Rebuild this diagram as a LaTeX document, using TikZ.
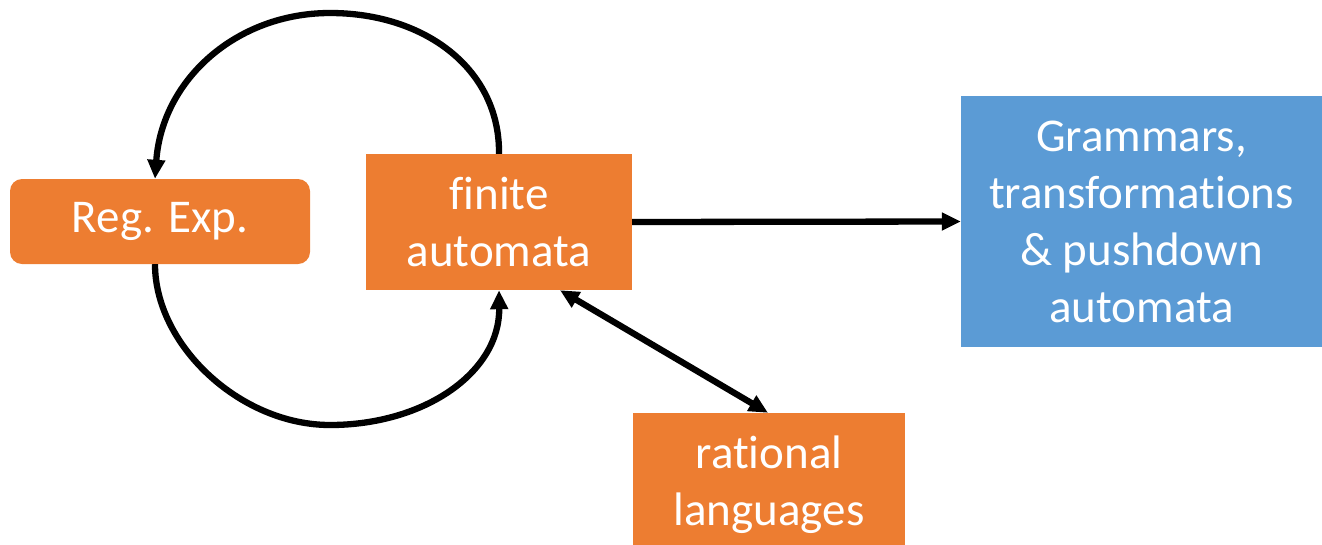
\documentclass[tikz,border=0pt]{standalone}
\usepackage{fontspec}
\setmainfont{Carlito}[Ligatures=NoCommon]
\usetikzlibrary{arrows.meta}
\definecolor{boxorange}{HTML}{ED7D31}
\definecolor{boxblue}{HTML}{5B9BD5}
\begin{document}
\begin{tikzpicture}[x=1pt,y=-1pt,
  box/.style={draw=none, text=white, align=center, inner sep=0pt,
    font=\fontsize{47}{57}\selectfont},
  orangebox/.style={box, fill=boxorange},
  bluebox/.style={box, fill=boxblue},
  tip/.tip={Triangle[length=19pt,width=17pt]},
  conn/.style={line width=6.3pt, -tip},
  bothconn/.style={line width=6.3pt, tip-tip}]
\useasboundingbox (0,0) rectangle (1322,544);

\node[orangebox, rounded corners=12pt, minimum width=300pt, minimum height=85pt]
  (re) at (160,221.5) {Reg. Exp.};
\node[orangebox, minimum width=266pt, minimum height=136pt]
  (fa) at (499,222) {finite\\automata};
\node[bluebox, minimum width=361pt, minimum height=251pt]
  (gr) at (1141.5,221.5) {Grammars,\\transformations\\\& pushdown\\automata};
% runs past the bottom edge of the page
\node[orangebox, minimum width=272pt, minimum height=143pt]
  (rl) at (769,484.5) {rational\\languages};

% loop between finite automata and regular expressions
\draw[conn] (fa.north) .. controls (500,70) and (426,13) .. (330,13)
  .. controls (236,13) and (162,80) .. ([xshift=-5pt]re.north);
\draw[conn] ([xshift=-5pt]re.south) .. controls (155,345) and (240,425) .. (330,425)
  .. controls (425,425) and (500,372) .. (fa.south);

% links to the other boxes
\draw[conn] (fa.east) -- (gr.west);
\draw[bothconn] ([xshift=61pt]fa.south) -- ([xshift=-1pt]rl.north);
\end{tikzpicture}
\end{document}
